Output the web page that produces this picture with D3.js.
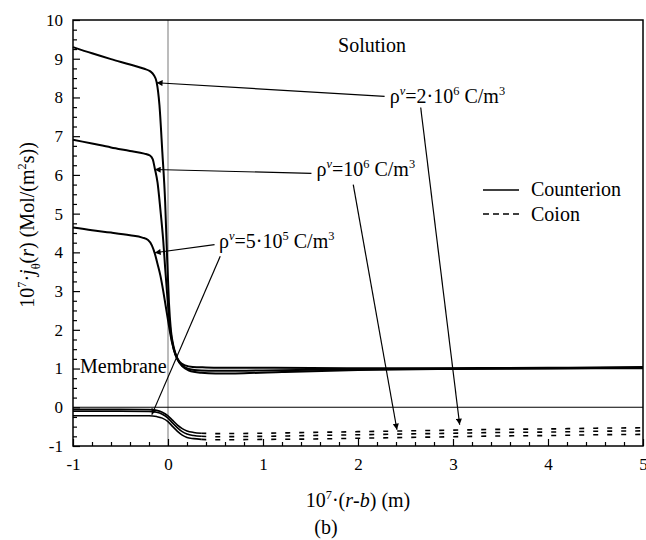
<!DOCTYPE html>
<html>
<head>
<meta charset="utf-8">
<script src="https://cdn.jsdelivr.net/npm/d3@7"></script>
<style>
  body { margin: 0; background: #fff; }
  svg text { font-family: "Liberation Serif", "Times New Roman", "DejaVu Serif", serif; fill: #000; }
</style>
</head>
<body>
<svg id="chart" width="646" height="540"></svg>
<script>
// tick labels
var xTicks = [-1, 0, 1, 2, 3, 4, 5];
var yTicks = [-1, 0, 1, 2, 3, 4, 5, 6, 7, 8, 9, 10];

// counterion flux, solid curves  [x, y]
var counter2e6 = [[-1, 9.3], [-0.8, 9.14], [-0.6, 8.99], [-0.4, 8.85], [-0.25, 8.74], [-0.19, 8.68],
    [-0.15, 8.58], [-0.12, 8.4], [-0.09, 7.8], [-0.06, 6.6], [-0.03, 5.3], [-0.01, 3.9], [0.01, 2.7],
    [0.03, 2.0], [0.06, 1.55], [0.1, 1.25], [0.15, 1.06], [0.22, 0.95], [0.35, 0.89], [0.5, 0.87],
    [0.8, 0.88], [1.2, 0.91], [2, 0.96], [3, 0.99], [4, 1.0], [5, 1.01]];
var counter1e6 = [[-1, 6.91], [-0.8, 6.81], [-0.6, 6.71], [-0.4, 6.62], [-0.25, 6.55], [-0.19, 6.5],
    [-0.16, 6.4], [-0.14, 6.18], [-0.11, 5.8], [-0.08, 5.1], [-0.05, 4.3], [-0.03, 3.6], [-0.01, 2.95],
    [0.01, 2.35], [0.03, 1.9], [0.06, 1.5], [0.1, 1.23], [0.15, 1.07], [0.22, 0.99], [0.35, 0.95],
    [0.5, 0.94], [1, 0.95], [2, 0.98], [3, 1.0], [4, 1.01], [5, 1.02]];
var counter5e5 = [[-1, 4.64], [-0.8, 4.57], [-0.6, 4.51], [-0.4, 4.44], [-0.27, 4.38], [-0.21, 4.32],
    [-0.17, 4.18], [-0.14, 3.98], [-0.11, 3.7], [-0.08, 3.4], [-0.05, 3.0], [-0.02, 2.55], [0.01, 2.1],
    [0.04, 1.7], [0.08, 1.36], [0.12, 1.18], [0.18, 1.08], [0.26, 1.04], [0.4, 1.03], [0.7, 1.02],
    [1, 1.02], [2, 1.01], [3, 1.01], [4, 1.02], [5, 1.04]];

// coion flux, dashed curves  [x, y]
var coion2e6 = [[-1, -0.05], [-0.5, -0.05], [-0.2, -0.06], [-0.12, -0.08], [-0.06, -0.13], [0, -0.22],
    [0.05, -0.34], [0.1, -0.46], [0.15, -0.55], [0.2, -0.61], [0.27, -0.65], [0.35, -0.67], [0.5, -0.68],
    [1, -0.67], [1.5, -0.65], [2, -0.63], [2.5, -0.61], [3, -0.59], [3.5, -0.57], [4, -0.56], [4.5, -0.54], [5, -0.53]];
var coion1e6 = [[-1, -0.1], [-0.5, -0.1], [-0.2, -0.11], [-0.12, -0.13], [-0.06, -0.18], [0, -0.28],
    [0.05, -0.41], [0.1, -0.53], [0.15, -0.63], [0.2, -0.69], [0.27, -0.73], [0.35, -0.75], [0.5, -0.76],
    [1, -0.75], [1.5, -0.73], [2, -0.71], [2.5, -0.69], [3, -0.67], [3.5, -0.65], [4, -0.64], [4.5, -0.62], [5, -0.61]];
var coion5e5 = [[-1, -0.22], [-0.5, -0.22], [-0.2, -0.22], [-0.12, -0.24], [-0.06, -0.28], [0, -0.37],
    [0.05, -0.5], [0.1, -0.62], [0.15, -0.72], [0.2, -0.78], [0.27, -0.81], [0.35, -0.83], [0.5, -0.84],
    [1, -0.83], [1.5, -0.82], [2, -0.8], [2.5, -0.78], [3, -0.76], [3.5, -0.74], [4, -0.73], [4.5, -0.71], [5, -0.7]];

var counterSeries = [counter2e6, counter1e6, counter5e5];
var coionSeries = [coion2e6, coion1e6, coion5e5];

// annotation text (mantissa, exponent) and where it sits, in data units
var annoMant = ["2·10", "10", "5·10"];
var annoExp = ["6", "6", "5"];
var annoText = [[2.335, 7.85], [1.563, 5.97], [0.538, 4.12]];
var annoFrom1 = [[2.28, 8.03], [1.51, 6.04], [0.49, 4.2]];
var annoTip1 = [[-0.12, 8.38], [-0.14, 6.14], [-0.14, 3.99]];
var annoFrom2 = [[2.66, 7.74], [1.95, 5.75], [0.55, 3.9]];
var annoTip2 = [[3.07, -0.45], [2.41, -0.58], [-0.17, -0.19]];

var serif = "'Liberation Serif', 'Times New Roman', 'DejaVu Serif', serif";
var svg = d3.select("#chart").attr("font-family", serif);
var x = d3.scaleLinear().domain([-1, 5]).range([73, 643]);
var y = d3.scaleLinear().domain([-1, 10]).range([446, 20]);

// rich text helper: parts = [text, style] where style is "", "i", "sup", "sub", "isup"
function rich(sel, parts, size) {
    var shift = 0;
    parts.forEach(function (p) {
        var want = 0, fs = size, it = false;
        if (p[1] == "sup" || p[1] == "isup") { want = -0.4 * size; fs = size * 0.62; }
        if (p[1] == "sub") { want = 0.3 * size; fs = size * 0.62; }
        if (p[1] == "i" || p[1] == "isup") it = true;
        sel.append("tspan")
            .attr("dy", want - shift)
            .style("font-size", fs + "px")
            .style("font-style", it ? "italic" : "normal")
            .text(p[0]);
        shift = want;
    });
}

svg.append("defs").append("marker")
    .attr("id", "arr")
    .attr("viewBox", "0 0 10 10")
    .attr("refX", 10).attr("refY", 5)
    .attr("markerUnits", "userSpaceOnUse")
    .attr("markerWidth", 8).attr("markerHeight", 6)
    .attr("orient", "auto")
    .append("path").attr("d", "M0,0L10,5L0,10z").attr("fill", "#000");

// membrane boundary and zero line
svg.append("line")
    .attr("x1", x(0)).attr("x2", x(0)).attr("y1", y(10)).attr("y2", y(-1))
    .attr("stroke", "#a6a6a6").attr("stroke-width", 1.5);
svg.append("line")
    .attr("x1", x(-1)).attr("x2", x(5)).attr("y1", y(0)).attr("y2", y(0))
    .attr("stroke", "#000").attr("stroke-width", 1.2);

// axes
var xMinor = d3.range(-1, 5.001, 0.2).filter(function (v) { return Math.abs(v - Math.round(v)) > 0.01; });
var yMinor = d3.range(-1, 10.001, 0.25).filter(function (v) { return Math.abs(v - Math.round(v)) > 0.01; });
var fmt = function (d) { return String(d); };

var gx = svg.append("g").attr("transform", "translate(0," + y(-1) + ")")
    .call(d3.axisBottom(x).tickValues(xTicks).tickSize(-7).tickSizeOuter(0).tickPadding(12).tickFormat(fmt));
var gxm = svg.append("g").attr("transform", "translate(0," + y(-1) + ")")
    .call(d3.axisBottom(x).tickValues(xMinor).tickSize(-4).tickSizeOuter(0).tickFormat(""));
var gy = svg.append("g").attr("transform", "translate(" + x(-1) + ",0)")
    .call(d3.axisLeft(y).tickValues(yTicks).tickSize(-7).tickSizeOuter(0).tickPadding(10).tickFormat(fmt));
var gym = svg.append("g").attr("transform", "translate(" + x(-1) + ",0)")
    .call(d3.axisLeft(y).tickValues(yMinor).tickSize(-4).tickSizeOuter(0).tickFormat(""));

[gx, gxm, gy, gym].forEach(function (g) {
    g.attr("font-family", serif).attr("font-size", 17);
    g.select(".domain").remove();
    g.selectAll(".tick line").attr("stroke", "#000").attr("stroke-width", 1.2);
    g.selectAll("text").style("font-size", "17px").style("font-family", serif).attr("fill", "#000");
});

// frame
svg.append("rect")
    .attr("x", x(-1)).attr("y", y(10))
    .attr("width", x(5) - x(-1)).attr("height", y(-1) - y(10))
    .attr("fill", "none").attr("stroke", "#000").attr("stroke-width", 1.5);

var line = d3.line()
    .x(function (d) { return x(d[0]); })
    .y(function (d) { return y(d[1]); })
    .curve(d3.curveMonotoneX);

svg.selectAll("path.counter")
    .data(counterSeries)
    .enter().append("path")
    .attr("class", "counter")
    .attr("d", line)
    .attr("fill", "none").attr("stroke", "#000").attr("stroke-width", 2);

// coion: dense part near the membrane reads as solid, the rest dashed
var split = 0.35;
svg.selectAll("path.coionA")
    .data(coionSeries)
    .enter().append("path")
    .attr("class", "coionA")
    .attr("d", function (d) { return line(d.filter(function (p) { return p[0] <= split; })); })
    .attr("fill", "none").attr("stroke", "#000").attr("stroke-width", 1.6);
svg.selectAll("path.coionB")
    .data(coionSeries)
    .enter().append("path")
    .attr("class", "coionB")
    .attr("d", function (d) { return line(d.filter(function (p) { return p[0] >= split; })); })
    .attr("fill", "none").attr("stroke", "#000").attr("stroke-width", 1.6)
    .attr("stroke-dasharray", "5,9");

// annotations
annoText.forEach(function (pos, i) {
    var t = svg.append("text")
        .attr("x", x(pos[0])).attr("y", y(pos[1]))
        .style("font-size", "20px");
    rich(t, [["ρ", ""], ["v", "isup"], ["=" + annoMant[i], ""], [annoExp[i], "sup"], [" C/m", ""], ["3", "sup"]], 20);

    svg.append("line")
        .attr("x1", x(annoFrom1[i][0])).attr("y1", y(annoFrom1[i][1]))
        .attr("x2", x(annoTip1[i][0])).attr("y2", y(annoTip1[i][1]))
        .attr("stroke", "#000").attr("stroke-width", 1.2)
        .attr("marker-end", "url(#arr)");
    svg.append("line")
        .attr("x1", x(annoFrom2[i][0])).attr("y1", y(annoFrom2[i][1]))
        .attr("x2", x(annoTip2[i][0])).attr("y2", y(annoTip2[i][1]))
        .attr("stroke", "#000").attr("stroke-width", 1.2)
        .attr("marker-end", "url(#arr)");
});

svg.append("text").attr("x", 372).attr("y", 52)
    .attr("text-anchor", "middle").style("font-size", "20px").text("Solution");
svg.append("text").attr("x", 80).attr("y", 373)
    .style("font-size", "20px").text("Membrane");

// legend
svg.append("line").attr("x1", 483).attr("x2", 519).attr("y1", 190).attr("y2", 190)
    .attr("stroke", "#000").attr("stroke-width", 1.6);
svg.append("line").attr("x1", 483).attr("x2", 519).attr("y1", 214).attr("y2", 214)
    .attr("stroke", "#000").attr("stroke-width", 1.6).attr("stroke-dasharray", "6,4");
svg.append("text").attr("x", 531).attr("y", 196).style("font-size", "20px").text("Counterion");
svg.append("text").attr("x", 531).attr("y", 221).style("font-size", "20px").text("Coion");

// axis titles
var xt = svg.append("text").attr("x", 358).attr("y", 507)
    .attr("text-anchor", "middle").style("font-size", "20px");
rich(xt, [["10", ""], ["7", "sup"], ["·(", ""], ["r", "i"], ["-", ""], ["b", "i"], [") (m)", ""]], 20);

svg.append("text").attr("x", 326).attr("y", 534)
    .attr("text-anchor", "middle").style("font-size", "20px").text("(b)");

var yt = svg.append("text")
    .attr("transform", "translate(34,225) rotate(-90)")
    .attr("text-anchor", "middle").style("font-size", "20px");
rich(yt, [["10", ""], ["7", "sup"], ["·", ""], ["j", "i"], ["θ", "sub"], ["(", ""], ["r", "i"],
    [") (Mol/(m", ""], ["2", "sup"], ["s))", ""]], 20);
</script>
</body>
</html>
